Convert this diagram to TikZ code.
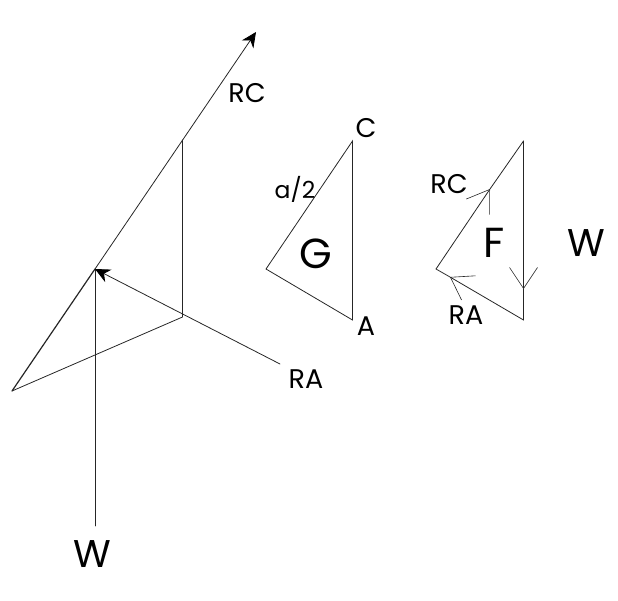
\documentclass[tikz,border=0pt]{standalone}
\usepackage{fontspec}
\setmainfont{Poppins}
\usetikzlibrary{arrows,arrows.meta}
\begin{document}
\begin{tikzpicture}[x=1pt,y=-1pt,line cap=round,line width=.8pt,black!85]
  \tikzstyle{small}=[inner sep=0pt,text=black,font=\fontsize{27}{27}\selectfont]
  \tikzstyle{big}=[inner sep=0pt,text=black,font=\fontsize{42}{42}\selectfont]
  \tikzstyle{solidtip}=[-{Stealth[length=15pt,width=14pt,black]}]
  \tikzstyle{opentip}=[-{Straight Barb[length=21pt,width=28pt,line width=.6pt]}]
  \useasboundingbox (0,0) rectangle (618,600);

  % left figure
  \coordinate (T) at (256,32);
  \coordinate (B) at (12,391);
  \coordinate (U) at (182.5,140);
  \coordinate (O) at (182.5,317);
  \coordinate (P) at (95,269);
  \coordinate (E) at (95,526);
  \coordinate (R) at (280,364);
  \draw[line width=1.2pt] (B) -- (P);
  \draw[solidtip] (P) -- (T);
  \draw (B) -- (O) -- (U);
  \draw (P) -- (E);
  \draw[solidtip] (R) -- (P);

  \node[small] (rc1) at (247,93) {RC};
  \node[small] (ra1) at (306,379) {RA};
  \node[big,scale=.92] (w1) at (92,554) {W};

  % triangle G
  \coordinate (G1) at (352.5,141);
  \coordinate (G2) at (352.5,320);
  \coordinate (G3) at (266,269);
  \draw (G1) -- (G2) -- (G3) -- cycle;
  \node[small] (c) at (366,128) {C};
  \node[small] (a) at (366,326) {A};
  \node[small,scale=.87] (half) at (295,189) {a/2};
  \node[big] (g) at (316,254) {G};

  % triangle F
  \coordinate (F1) at (523.5,141);
  \coordinate (F2) at (523.5,320);
  \coordinate (F3) at (436,269);
  \coordinate (M1) at (490,189);
  \coordinate (M2) at (450,277);
  \coordinate (M3) at (523.5,289);
  \draw[opentip] (F3) -- (M1);
  \draw (M1) -- (F1);
  \draw[opentip] (F1) -- (M3);
  \draw (M3) -- (F2);
  \draw[opentip] (F2) -- (M2);
  \draw (M2) -- (F3);
  \node[small] (rc2) at (449,184) {RC};
  \node[small] (ra2) at (466,315) {RA};
  \node[big] (f) at (494,243) {F};
  \node[big,scale=.92] (w2) at (586,243) {W};
\end{tikzpicture}
\end{document}
